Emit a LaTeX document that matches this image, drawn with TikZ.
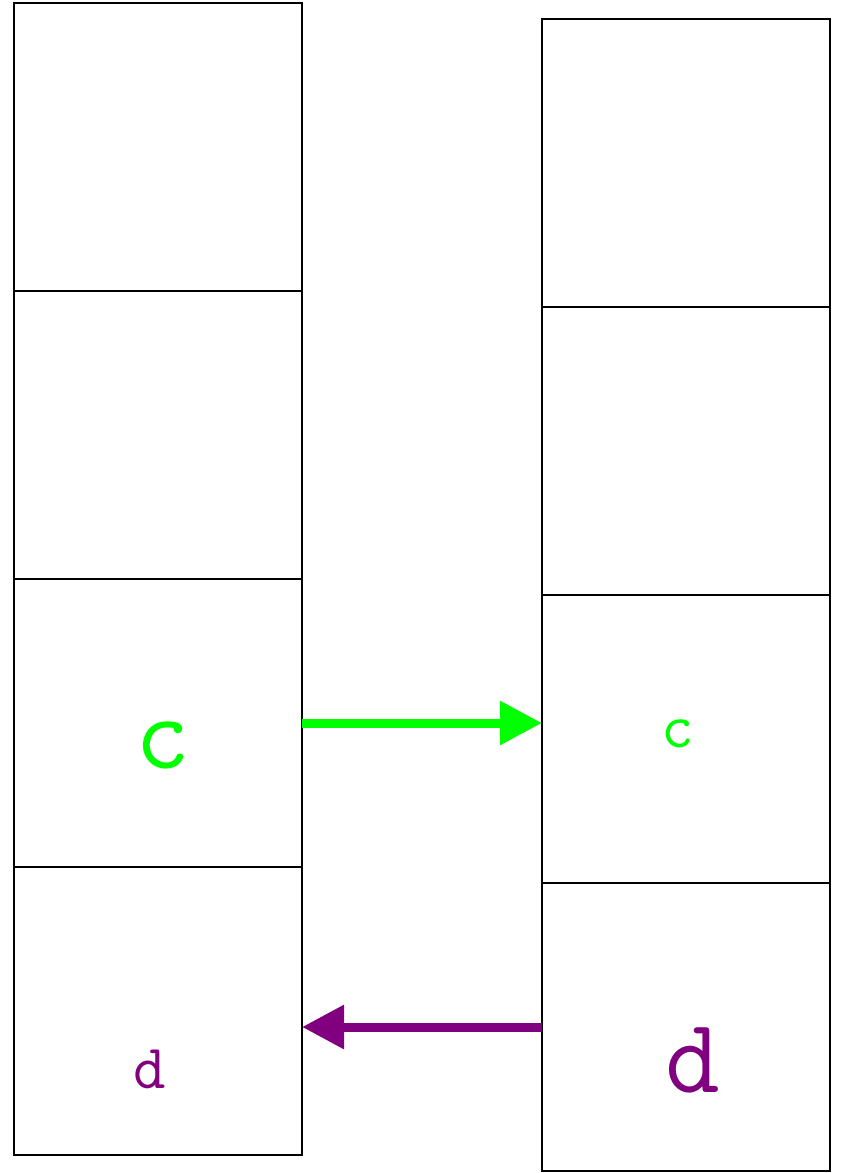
\documentclass[tikz,border=0pt]{standalone}
\usetikzlibrary{arrows.meta}
\definecolor{lgreen}{HTML}{00FF00}
\definecolor{dpurple}{HTML}{800080}
\begin{document}
\begin{tikzpicture}[x=1pt,y=-1pt,
  cell/.style={draw=black,line width=1.5pt,minimum width=288pt,minimum height=288pt,inner sep=0pt,outer sep=0pt},
  big/.style={font=\ttfamily\fontsize{106}{106}\selectfont,inner sep=0pt,anchor=base},
  small/.style={font=\ttfamily\fontsize{63}{63}\selectfont,inner sep=0pt,anchor=base},
  conn/.style={line width=9pt,-{Triangle[length=42pt,width=42pt]}}]
\useasboundingbox (0,0) rectangle (846,1173);
\node[cell] (L1) at (158,147) {};
\node[cell] (L2) at (158,435) {};
\node[cell] (L3) at (158,723) {};
\node[cell] (L4) at (158,1011) {};
\node[cell] (R1) at (686,163) {};
\node[cell] (R2) at (686,451) {};
\node[cell] (R3) at (686,739) {};
\node[cell] (R4) at (686,1027) {};
\node[big,text=lgreen] (tc1) at (162.5,768) {c};
\node[small,text=lgreen] (tc2) at (678,747) {c};
\node[small,text=dpurple] (td1) at (149.5,1088) {d};
\node[big,text=dpurple] (td2) at (692.5,1092) {d};
\draw[conn,lgreen] (L3.east) -- (L3.east -| R3.west);
\draw[conn,dpurple] (R4.west) -- (R4.west -| L4.east);
\end{tikzpicture}
\end{document}
